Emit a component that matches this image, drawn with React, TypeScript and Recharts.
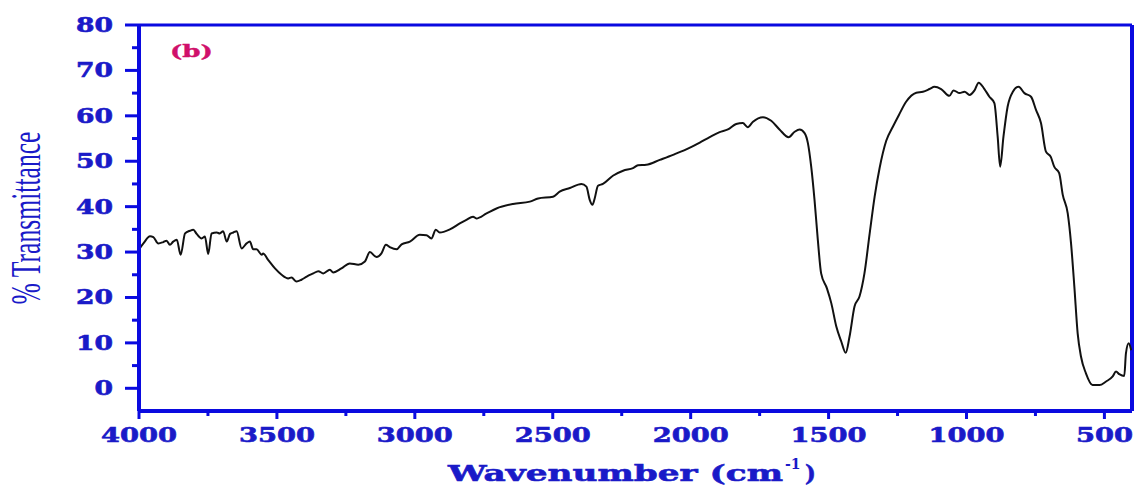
import React from 'react';
import { LineChart, Line, XAxis, YAxis, ReferenceLine } from 'recharts';

// FTIR spectrum (b)
const wavenumber = [
  4000, 3984, 3960, 3948, 3930, 3912, 3900, 3888, 3876, 3863, 3849, 3833, 3815, 3803, 3791, 3773,
  3761, 3749, 3737, 3718, 3707, 3695, 3682, 3670, 3658, 3646, 3628, 3610, 3598, 3586, 3574, 3555,
  3550, 3532, 3507, 3483, 3459, 3447, 3429, 3411, 3392, 3368, 3350, 3332, 3308, 3296, 3266, 3236,
  3205, 3181, 3163, 3139, 3121, 3105, 3091, 3066, 3048, 3018, 2982, 2958, 2940, 2924, 2910, 2873,
  2837, 2813, 2789, 2777, 2740, 2704, 2644, 2583, 2553, 2499, 2475, 2438, 2396, 2378, 2366, 2356,
  2348, 2336, 2318, 2282, 2245, 2209, 2191, 2161, 2112, 2064, 2016, 1967, 1931, 1895, 1865, 1835,
  1811, 1793, 1774, 1738, 1708, 1678, 1645, 1623, 1605, 1587, 1575, 1563, 1551, 1539, 1527, 1506,
  1490, 1472, 1454, 1438, 1424, 1406, 1388, 1370, 1351, 1333, 1315, 1291, 1267, 1245, 1219, 1182,
  1158, 1134, 1116, 1092, 1062, 1047, 1025, 1007, 989, 971, 956, 935, 917, 899, 887, 878,
  866, 851, 832, 811, 790, 766, 748, 730, 712, 694, 682, 664, 651, 633, 621, 609,
  597, 585, 567, 543, 518, 494, 470, 458, 446, 428, 422, 412, 403,
];
const transmittance = [
  30.6, 31.9, 33.5, 33.3, 31.9, 32.2, 32.5, 31.6, 32.3, 32.7, 29.4, 34.1, 34.7, 34.9, 34.0, 33.0,
  33.4, 29.6, 34.1, 34.3, 34.1, 34.6, 32.3, 34.0, 34.3, 34.6, 30.8, 31.9, 32.3, 30.6, 30.6, 29.4,
  29.7, 28.3, 26.4, 25.0, 24.2, 24.4, 23.5, 23.9, 24.6, 25.3, 25.8, 25.3, 26.1, 25.5, 26.4, 27.5,
  27.2, 27.9, 30.0, 28.9, 29.7, 31.6, 31.1, 30.6, 31.7, 32.3, 33.8, 33.7, 33.0, 34.9, 34.3, 35.0,
  36.3, 37.1, 37.8, 37.4, 38.5, 39.6, 40.6, 41.1, 41.8, 42.2, 43.3, 44.1, 45.0, 44.4, 41.5, 40.4,
  41.8, 44.6, 45.0, 46.8, 47.9, 48.5, 49.1, 49.2, 50.3, 51.4, 52.6, 54.1, 55.3, 56.4, 57.0, 58.2,
  58.4, 57.5, 58.7, 59.7, 58.9, 57.0, 55.3, 56.5, 57.0, 56.2, 54.0, 48.8, 41.5, 32.7, 25.3, 22.0,
  18.7, 13.6, 10.3, 7.8, 11.4, 18.0, 20.2, 25.3, 34.1, 42.2, 48.5, 54.5, 57.6, 60.2, 63.1, 65.1,
  65.3, 65.9, 66.4, 65.9, 64.4, 65.6, 65.0, 65.3, 64.6, 65.6, 67.3, 65.9, 64.2, 62.8, 55.4, 48.8,
  55.4, 62.0, 65.3, 66.4, 65.0, 64.2, 61.3, 58.4, 52.1, 50.9, 48.8, 47.4, 42.6, 38.5, 31.9, 22.4,
  12.1, 7.0, 3.3, 0.7, 0.7, 1.5, 2.6, 3.7, 3.1, 2.7, 7.7, 9.9, 8.4,
];

const xTicks = [4000, 3750, 3500, 3250, 3000, 2750, 2500, 2250, 2000, 1750, 1500, 1250, 1000, 750, 500];
const yTicks = [0, 5, 10, 15, 20, 25, 30, 35, 40, 45, 50, 55, 60, 65, 70, 75, 80];

const AXIS = '#0a0ae0';
const TEXT = '#1a1ac8';
const BOLD_FONT = '"DejaVu Serif", serif';

const data = wavenumber.map((wn, i) => ({ wn, t: transmittance[i] }));

const XTick = (props: any) => {
  const { x, y, payload } = props;
  const major = payload.value % 500 === 0;
  const label = String(payload.value);
  return (
    <g>
      <line x1={x} x2={x} y1={y} y2={y + (major ? 8 : 5)} stroke={AXIS} strokeWidth={3} />
      {major && (
        <text
          x={x}
          y={y + 31}
          textAnchor="middle"
          fill={TEXT}
          stroke={TEXT}
          strokeWidth={0.6}
          fontFamily={BOLD_FONT}
          fontWeight="bold"
          fontSize={20}
          textLength={label.length * 19}
          lengthAdjust="spacingAndGlyphs"
        >
          {label}
        </text>
      )}
    </g>
  );
};

const YTick = (props: any) => {
  const { x, y, payload } = props;
  const major = payload.value % 10 === 0;
  const label = String(payload.value);
  return (
    <g>
      <line x1={x - (major ? 14 : 7)} x2={x} y1={y} y2={y} stroke={AXIS} strokeWidth={3} />
      {major && (
        <text
          x={x - 26}
          y={y + 7}
          textAnchor="end"
          fill={TEXT}
          stroke={TEXT}
          strokeWidth={0.6}
          fontFamily={BOLD_FONT}
          fontWeight="bold"
          fontSize={20}
          textLength={label.length * 18.5}
          lengthAdjust="spacingAndGlyphs"
        >
          {label}
        </text>
      )}
    </g>
  );
};

export default function App() {
  return (
    <div style={{ position: 'absolute', left: 0, top: 0, width: 1138, height: 487, background: '#fff' }}>
      <LineChart width={1138} height={487} data={data} margin={{ top: 25, right: 6, bottom: 0, left: 0 }}>
        <XAxis
          dataKey="wn"
          type="number"
          domain={[400, 4000]}
          reversed
          ticks={xTicks}
          interval={0}
          height={76}
          tickSize={0}
          tickMargin={0}
          tickLine={false}
          tick={<XTick />}
          axisLine={{ stroke: AXIS, strokeWidth: 4 }}
          allowDataOverflow
        />
        <YAxis
          type="number"
          domain={[-5, 80]}
          ticks={yTicks}
          interval={0}
          width={139}
          tickSize={0}
          tickMargin={0}
          tickLine={false}
          tick={<YTick />}
          axisLine={{ stroke: AXIS, strokeWidth: 4 }}
          allowDataOverflow
        />
        <ReferenceLine y={80} stroke={AXIS} strokeWidth={3} />
        <ReferenceLine x={400} stroke={AXIS} strokeWidth={4} />
        <Line
          dataKey="t"
          type="monotone"
          stroke="#111"
          strokeWidth={2}
          dot={false}
          isAnimationActive={false}
        />
      </LineChart>
      <svg
        width={1138}
        height={487}
        style={{ position: 'absolute', left: 0, top: 0, pointerEvents: 'none' }}
      >
        <text
          x={170}
          y={57}
          fill="#d0106a"
          stroke="#d0106a"
          strokeWidth={0.4}
          fontFamily={BOLD_FONT}
          fontWeight="bold"
          fontSize={17}
          textLength={43}
          lengthAdjust="spacingAndGlyphs"
        >
          (b)
        </text>
        <text
          transform="translate(40,218) rotate(-90)"
          textAnchor="middle"
          fill={TEXT}
          fontFamily='"Liberation Serif", serif'
          fontSize={42}
          textLength={173}
          lengthAdjust="spacingAndGlyphs"
        >
          % Transmittance
        </text>
        <text
          x={448}
          y={481}
          fill={TEXT}
          stroke={TEXT}
          strokeWidth={0.6}
          fontFamily={BOLD_FONT}
          fontWeight="bold"
          fontSize={23}
          textLength={335}
          lengthAdjust="spacingAndGlyphs"
        >
          Wavenumber (cm
        </text>
        <text x={785} y={469} fill={TEXT} fontFamily={BOLD_FONT} fontWeight="bold" fontSize={14}>
          -1
        </text>
        <text
          x={805}
          y={481}
          fill={TEXT}
          stroke={TEXT}
          strokeWidth={0.6}
          fontFamily={BOLD_FONT}
          fontWeight="bold"
          fontSize={23}
        >
          )
        </text>
      </svg>
    </div>
  );
}
